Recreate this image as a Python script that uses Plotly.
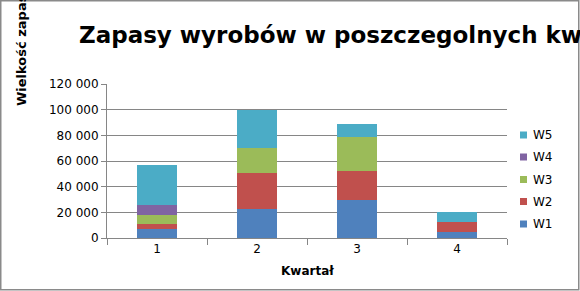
import plotly.graph_objects as go

quarters = ["1", "2", "3", "4"]
series_names = ["W1", "W2", "W3", "W4", "W5"]
w1 = [6700, 22800, 30000, 4900]
w2 = [3900, 28000, 22400, 7800]
w3 = [7500, 19500, 26400, 0]
w4 = [7800, 0, 0, 0]
w5 = [31100, 29700, 10200, 7800]
colors = ["#4F81BD", "#C0504D", "#9BBB59", "#8064A2", "#4BACC6"]
y_ticks = [0, 20000, 40000, 60000, 80000, 100000, 120000]
y_tick_labels = ["0", "20 000", "40 000", "60 000", "80 000", "100 000", "120 000"]

title_text = "Zapasy wyrobów w poszczegolnych kwartałach"
x_title = "Kwartał"
y_title = "Wielkość zapasów"

W, H = 580, 291
L, R, T, B = 107, 73, 84, 53
PW, PH = W - L - R, H - T - B

def px(x):
    return (x - L) / PW

def py(y):
    return (H - B - y) / PH

FONT = "DejaVu Sans"

fig = go.Figure()
for name, vals, c in zip(series_names, [w1, w2, w3, w4, w5], colors):
    fig.add_trace(go.Bar(x=quarters, y=vals, name=name, marker=dict(color=c, line=dict(width=0)),
                         showlegend=False))

shapes = []
annotations = []
# outer border
shapes.append(dict(type="rect", xref="paper", yref="paper",
                   x0=px(0.75), x1=px(578.75), y0=py(0.75), y1=py(289.75),
                   line=dict(color="#8a8a8a", width=1.5), fillcolor="rgba(0,0,0,0)", layer="above"))
# legend (custom)
legend_y = [224, 201.5, 179.5, 157, 135]
for name, c, ly in zip(series_names, colors, legend_y):
    shapes.append(dict(type="rect", xref="paper", yref="paper",
                       x0=px(520), x1=px(527), y0=py(ly - 3.5), y1=py(ly + 3.5),
                       line=dict(width=0), fillcolor=c))
    annotations.append(dict(text=name, xref="paper", yref="paper", x=px(531), y=py(ly),
                            xanchor="left", yanchor="middle", showarrow=False,
                            font=dict(family=FONT, size=12, color="#000")))
# title
annotations.append(dict(text="<b>" + title_text + "</b>", xref="paper", yref="paper",
                        x=px(77), y=py(35), xanchor="left", yanchor="middle", showarrow=False,
                        font=dict(family=FONT, size=23, color="#000")))
# axis titles
annotations.append(dict(text="<b>" + x_title + "</b>", xref="paper", yref="paper",
                        x=0.5, y=py(271), xanchor="center", yanchor="middle", showarrow=False,
                        font=dict(family=FONT, size=12, color="#000")))
annotations.append(dict(text="<b>" + y_title + "</b>", xref="paper", yref="paper",
                        x=px(21), y=py(108), xanchor="center", yanchor="bottom", showarrow=False,
                        textangle=-90, font=dict(family=FONT, size=13, color="#000")))

fig.update_layout(
    width=W, height=H,
    margin=dict(l=L, r=R, t=T, b=B, pad=0),
    barmode="stack", bargap=0.6,
    paper_bgcolor="white", plot_bgcolor="white",
    font=dict(family=FONT, size=12, color="#000"),
    showlegend=False,
    shapes=shapes, annotations=annotations,
    xaxis=dict(type="category", categoryorder="array", categoryarray=quarters,
               showline=True, linecolor="#868686", linewidth=1,
               ticks="outside", tickson="boundaries", ticklen=6, tickcolor="#868686",
               showgrid=False, tickfont=dict(family=FONT, size=12, color="#000")),
    yaxis=dict(range=[0, 120000], tickvals=y_ticks, ticktext=y_tick_labels,
               showline=True, linecolor="#868686", linewidth=1,
               ticks="outside", ticklen=5, tickcolor="#868686",
               showgrid=True, gridcolor="#868686", gridwidth=1, zeroline=False,
               tickfont=dict(family=FONT, size=12, color="#000")),
)

fig.write_html("out.html")
